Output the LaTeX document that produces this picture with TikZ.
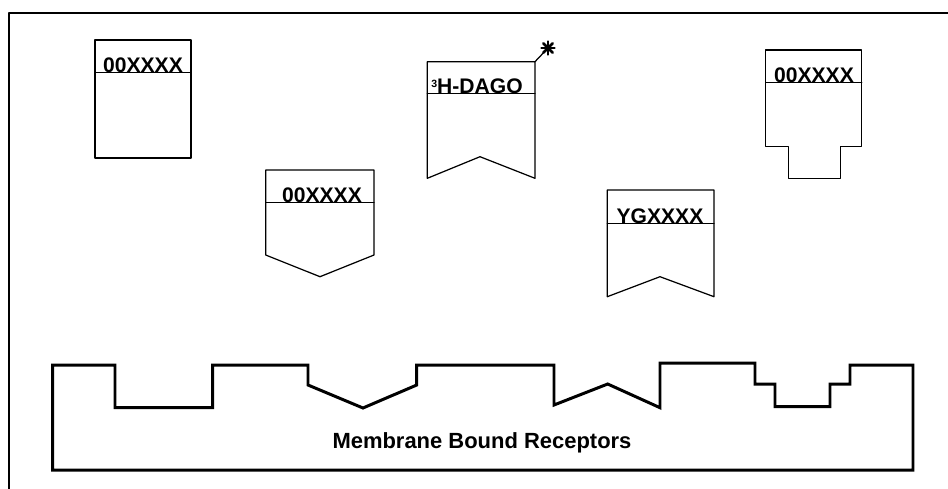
\documentclass[tikz,border=0pt]{standalone}
\usepackage{fontspec}
\setmainfont{Liberation Sans}
\usetikzlibrary{positioning}
\tikzset{lbl/.style={font=\fontsize{12}{12}\selectfont\bfseries,inner sep=0pt,anchor=base},
  ligand/.style={line width=0.7pt},
  membrane/.style={line width=1.7pt,line join=miter,line cap=butt}}

\begin{document}
\begin{tikzpicture}[line cap=round,line join=round,x=0.02cm,y=-0.02cm]
\useasboundingbox (0,0) rectangle (948,488);
\clip (0,0) rectangle (948,488);
\draw [line width=0.6pt] (9,500) -- (9,13) -- (960,13);
\draw [ligand] (95,40) rectangle (191,158);
\draw [ligand] (95,72.3) -- (191,72.3);
\node [lbl] (oxa) at (143,72) {00XXXX};
\draw [ligand] (265.7,202.3) -- (265.7,170) -- (374,170) -- (374,255) -- (320,276.7) -- (265.7,255) -- cycle;
\draw [ligand] (265.7,202.3) -- (374,202.3);
\node [lbl] (oxb) at (322,202) {00XXXX};
\draw [ligand] (427.3,93.3) -- (427.3,61.7) -- (535,61.7) -- (535,178.3) -- (480,156.7) -- (427.3,178.3) -- cycle;
\draw [ligand] (427.3,93.3) -- (535,93.3);
\node [lbl] (dago) at (477,93) {\raisebox{3pt}{\fontsize{6}{6}\selectfont 3}H-DAGO};
\coordinate (tag) at (548,48);
\draw [ligand] (535,61.7) -- (tag);
\foreach \a in {0,45,...,315}
  \draw [line width=1.5pt] (tag) -- ++(\a:6.5);
\draw [ligand] (607.3,223.3) -- (607.3,190) -- (714,190) -- (714,296.7) -- (660,276.7) -- (607.3,296.7) -- cycle;
\draw [ligand] (607.3,223.3) -- (714,223.3);
\node [lbl] (yg) at (660,223) {YGXXXX};
\draw [ligand] (765.7,82.3) -- (765.7,50) -- (861.7,50) -- (861.7,146.7) -- (840.7,146.7) -- (840.7,178.3) -- (788.3,178.3) -- (788.3,146.7) -- (765.7,146.7) -- cycle;
\draw [ligand] (765.7,82.3) -- (861.7,82.3);
\node [lbl] (oxc) at (814,82) {00XXXX};
\draw [membrane] (52.7,365) -- (115,365) -- (115,407.7) -- (212.7,407.7) -- (212.7,365) -- (308,365) -- (308,385) -- (363,408) -- (416.7,385) -- (416.7,365) -- (554,365) -- (554,405) -- (607.7,384) -- (660,407.7) -- (660,363) -- (755,363) -- (755,384) -- (775,384) -- (775,406.7) -- (830,406.7) -- (830,384) -- (850,384) -- (850,365) -- (913,365) -- (913,470) -- (52.7,470) -- cycle;
\node [lbl,font=\fontsize{12.5}{12.5}\selectfont\bfseries] (mbr) at (482,448) {Membrane Bound Receptors};
\end{tikzpicture}
\end{document}
